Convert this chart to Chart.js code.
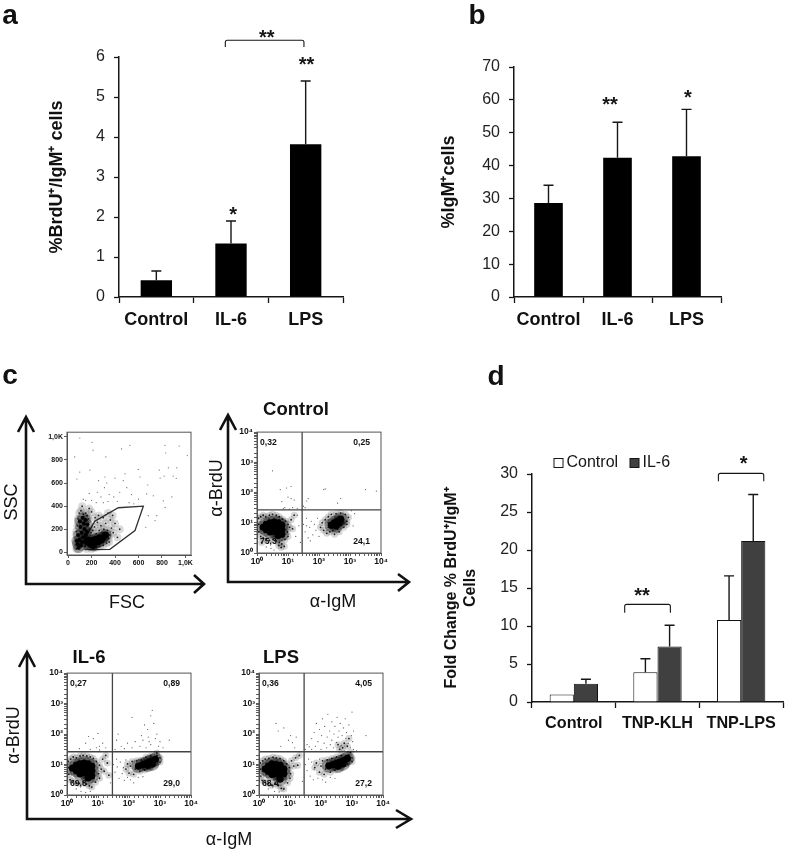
<!DOCTYPE html>
<html>
<head>
<meta charset="utf-8">
<title>BrdU / IgM panels</title>
<script src="https://cdn.jsdelivr.net/npm/chart.js@4/dist/chart.umd.min.js"></script>
<style>
  html, body { margin: 0; background: #fff; }
  #page { position: relative; width: 787px; height: 851px; overflow: hidden; font-family: "Liberation Sans", Arial, sans-serif; color: #111; filter: blur(0.4px); }
  canvas { position: absolute; }
  svg { position: absolute; left: 0; top: 0; }
  .t { position: absolute; white-space: nowrap; line-height: 1; transform: translate(-50%, -50%); }
</style>
</head>
<body>
<div id="page">
  <svg width="787" height="851" fill="none" stroke="#111" stroke-width="2.6">
    <path d="M26 417V584H203M18 432L26 417L34 432M194 575L204 584L194 593"/>
    <path d="M228 415V582H408M220 430L228 415L236 430M398 574L409 582L398 591"/>
    <path d="M27 652V819H410M19 667L27 652L35 667M396 810L411 819L396 828"/>
  </svg>
  <div class="t" style="left:10px;top:15px;font:bold 28px 'Liberation Sans'">a</div>
  <div class="t" style="left:477px;top:15px;font:bold 28px 'Liberation Sans'">b</div>
  <div class="t" style="left:10px;top:375px;font:bold 28px 'Liberation Sans'">c</div>
  <div class="t" style="left:496px;top:376px;font:bold 28px 'Liberation Sans'">d</div>
  <div class="t" style="left:11px;top:502px;font-size:18px;transform:translate(-50%,-50%) rotate(-90deg)">SSC</div>
  <div class="t" style="left:127px;top:602px;font-size:18px">FSC</div>
  <div class="t" style="left:216px;top:488px;font-size:18px;transform:translate(-50%,-50%) rotate(-90deg)">α-BrdU</div>
  <div class="t" style="left:333px;top:601px;font-size:18px">α-IgM</div>
  <div class="t" style="left:296px;top:409px;font-size:18.5px;font-weight:bold">Control</div>
  <div class="t" style="left:89px;top:657px;font-size:18.5px;font-weight:bold">IL-6</div>
  <div class="t" style="left:281px;top:657px;font-size:18.5px;font-weight:bold">LPS</div>
  <div class="t" style="left:13px;top:735px;font-size:18px;transform:translate(-50%,-50%) rotate(-90deg)">α-BrdU</div>
  <div class="t" style="left:229px;top:839px;font-size:18px">α-IgM</div>
</div>

<script>
// ---------------- BAR DATA -----------------
const groupsA = ["Control", "IL-6", "LPS"];
const meansA = [0.42, 1.34, 3.82];
const topsA = [0.65, 1.9, 5.4];

const groupsB = ["Control", "IL-6", "LPS"];
const meansB = [28.6, 42.4, 42.8];
const topsB = [34, 53.2, 57.1];

const groupsD = ["Control", "TNP-KLH", "TNP-LPS"];
const controlD = [1.0, 3.9, 10.8];
const controlTopsD = [1.0, 5.7, 16.6];
const il6D = [2.4, 7.3, 21.2];
const il6TopsD = [3.0, 10.1, 27.3];

// ---------------- FLOW DATA -----------------
// fsc/ssc events in axis units, gate is the drawn polygon
const gateFsc = [[143,23],[356,26],[570,189],[641,400],[428,386],[228,269],[150,130],[143,23]];
const fscCore = [[175,85],[195,70],[205,105],[225,80],[235,115],[255,90],[265,125],[285,105],[300,130],[320,150],[215,60]];
const fscColumn = [[80,70],[95,110],[85,150],[110,60],[115,170],[105,220],[130,130],[135,250],[125,300],[140,200],[150,150],[150,280],[100,270],[165,240],[160,180],[75,100],[120,90],[145,90],[90,40],[170,120]];
const fscFringe = [[70,30],[70,180],[80,230],[85,290],[95,340],[110,360],[120,400],[130,330],[150,340],[165,320],[175,290],[180,200],[195,170],[210,190],[225,220],[240,160],[250,260],[265,190],[280,230],[290,170],[305,200],[320,250],[335,190],[345,120],[355,150],[370,210],[350,90],[330,80],[300,60],[270,50],[240,40],[200,30],[160,30],[385,170],[400,250],[420,130],[300,300],[260,320],[230,300],[200,350],[180,380],[360,280],[340,340],[380,320],[440,200]];
const fscSparse = [[100,990],[205,952],[213,884],[57,826],[322,826],[456,895],[527,926],[826,926],[832,860],[946,920],[1015,838],[926,732],[854,732],[777,712],[895,660],[921,641],[597,718],[485,680],[186,712],[100,695],[75,635],[314,652],[400,643],[613,652],[679,583],[818,660],[784,643],[884,480],[670,506],[726,489],[811,446],[827,389],[756,317],[683,317],[662,217],[741,275],[250,520],[280,480],[310,560],[350,500],[180,510],[200,450],[240,430],[300,430],[340,440],[390,480],[440,520],[500,560],[150,450],[130,460],[260,620],[330,600],[420,440],[520,430],[560,420],[600,460],[540,500],[470,620]];

// quadrant plots: events in decades of the log axes [log10 IgM, log10 BrdU]
const ctrlGate = [1.456, 1.43];
const ctrlPct = ["0,32", "0,25", "75,3", "24,1"];
const ctrlCore = [[.2,.85],[.3,.95],[.3,.78],[.42,1.0],[.42,.85],[.42,.7],[.55,1.02],[.55,.88],[.55,.72],[.68,1.0],[.68,.85],[.68,.7],[.68,.58],[.8,.92],[.8,.78],[.8,.62],[2.4,.92],[2.5,1.0],[2.6,1.05],[2.7,1.12],[2.55,.9],[2.65,1.0]];
const ctrlFringe = [[.05,1.15],[.05,.95],[.06,.7],[.12,1.2],[.12,.55],[.2,1.25],[.2,.5],[.28,1.2],[.3,.45],[.4,1.25],[.4,.42],[.5,1.28],[.52,.45],[.62,1.25],[.62,.4],[.72,1.2],[.72,.35],[.82,1.12],[.8,.3],[.92,1.05],[.9,.45],[1.0,.95],[.98,.7],[1.05,.85],[1.0,.55],[.88,.22],[.78,.18],[.7,.25],[1.1,1.1],[1.15,.8],[1.2,1.25],[.15,.35],[2.05,.85],[2.1,1.0],[2.15,.75],[2.2,1.1],[2.25,.65],[2.3,1.2],[2.35,.7],[2.4,1.28],[2.5,.62],[2.55,1.3],[2.65,.7],[2.7,1.32],[2.8,.85],[2.85,1.28],[2.9,1.05],[2.95,1.18],[2.3,.85],[2.3,1.0],[2.8,1.0],[2.75,1.2],[2.45,.75],[2.6,.78],[2.9,.95]];
const ctrlSparse = [[1.5,.95],[1.55,.7],[1.6,1.15],[1.65,.5],[1.7,.85],[1.75,1.05],[1.8,.6],[1.85,.95],[1.9,.75],[1.95,1.15],[2.0,.55],[1.6,.9],[1.72,.4],[1.3,1.25],[1.35,.9],[1.25,.55],[1.4,.35],[.9,1.5],[.85,1.47],[1.05,1.45],[1.15,1.5],[1.3,1.48],[.5,2.72],[.75,2.1],[.95,2.15],[1.1,2.2],[1.2,1.75],[1.1,1.8],[.8,1.7],[1.0,1.85],[1.55,1.5],[1.6,1.72],[1.5,1.55],[1.65,1.8],[2.15,2.1],[2.2,2.12],[2.6,1.65],[3.5,2.1],[3.85,2.05],[2.7,1.8],[.3,.2],[.45,.15],[.55,.1],[3.15,1.3],[3.05,1.4],[3.1,.9]];

const il6Gate = [1.465, 1.42];
const il6Pct = ["0,27", "0,89", "69,8", "29,0"];
const il6Core = [[.18,.88],[.3,.98],[.3,.8],[.42,1.02],[.42,.86],[.42,.7],[.55,1.05],[.55,.9],[.55,.74],[.68,1.02],[.68,.86],[.68,.7],[.68,.56],[.8,.95],[.8,.8],[.8,.62],[2.3,.95],[2.45,1.0],[2.55,1.03],[2.65,1.08],[2.75,1.12],[2.85,1.17],[2.6,.98],[2.75,1.02]];
const il6Fringe = [[.04,1.1],[.05,.9],[.06,.68],[.12,1.18],[.1,.5],[.2,1.25],[.2,.46],[.3,1.22],[.3,.4],[.42,1.28],[.4,.38],[.52,1.3],[.52,.42],[.64,1.28],[.62,.36],[.75,1.25],[.72,.3],[.85,1.2],[.8,.26],[.95,1.1],[.92,.42],[1.05,.98],[1.02,.7],[1.1,.85],[1.05,.55],[1.15,1.18],[1.2,.78],[1.3,1.05],[1.35,.65],[1.25,1.3],[1.9,.85],[1.95,1.02],[2.0,.72],[2.05,.95],[2.1,1.1],[2.15,.68],[2.2,.85],[2.25,1.12],[2.35,.78],[2.4,1.15],[2.5,.82],[2.55,1.24],[2.65,.9],[2.7,1.28],[2.85,1.0],[2.9,1.3],[3.0,1.22],[3.0,1.08],[2.9,1.38]];
const il6Sparse = [[1.5,1.0],[1.55,.75],[1.6,1.18],[1.62,.92],[1.68,.55],[1.72,1.08],[1.78,.7],[1.82,.9],[1.85,.48],[1.9,1.15],[1.95,.58],[2.05,.5],[2.15,.4],[2.3,.58],[2.45,.6],[1.4,.4],[.75,1.5],[.95,1.55],[1.05,1.48],[.6,1.7],[.7,1.92],[.85,1.85],[1.0,2.02],[1.05,1.6],[1.15,1.7],[1.25,1.55],[.4,1.52],[1.55,1.5],[1.6,1.8],[1.65,2.0],[1.75,1.6],[1.85,1.52],[1.95,1.7],[2.1,1.55],[2.2,1.75],[2.35,1.6],[2.4,1.95],[2.45,1.8],[2.55,1.55],[2.6,2.15],[2.62,1.9],[2.7,1.65],[2.7,2.6],[2.65,1.75],[2.8,2.35],[2.85,1.85],[2.9,2.0],[2.95,1.6],[3.0,1.75],[3.1,1.55],[3.3,1.8],[2.1,2.55],[2.5,2.3],[2.75,2.78],[.3,.2],[.45,.12],[.6,.08],[.75,.12]];

const lpsGate = [1.455, 1.42];
const lpsPct = ["0,36", "4,05", "68,4", "27,2"];
const lpsCore = [[.2,.85],[.3,.95],[.3,.78],[.42,1.02],[.42,.85],[.42,.68],[.55,1.0],[.55,.85],[.55,.7],[.68,.98],[.68,.82],[.68,.66],[.68,.52],[.8,.85],[.8,.7],[2.25,.96],[2.38,1.0],[2.5,1.04],[2.62,1.08],[2.75,1.14],[2.85,1.2],[2.55,.95],[2.7,1.02]];
const lpsFringe = [[.04,1.05],[.05,.85],[.06,.62],[.12,1.12],[.1,.48],[.2,1.18],[.2,.42],[.32,1.2],[.3,.38],[.45,1.24],[.4,.32],[.56,1.22],[.52,.38],[.68,1.2],[.62,.3],[.8,1.12],[.72,.22],[.9,1.02],[.8,.2],[.98,.9],[.92,.4],[1.02,.7],[1.0,.55],[1.05,1.12],[1.12,.95],[1.18,1.22],[1.25,.98],[1.3,1.3],[1.8,.9],[1.85,1.05],[1.95,.75],[2.0,.95],[2.05,1.12],[2.1,.68],[2.15,.85],[2.2,1.15],[2.3,.75],[2.35,1.2],[2.45,.82],[2.5,1.25],[2.6,.88],[2.65,1.3],[2.85,1.02],[2.9,1.32],[3.0,1.22],[3.0,1.1],[2.95,1.4],[2.6,1.5],[2.7,1.55],[2.75,1.7],[2.85,1.6],[2.55,1.65],[2.9,1.85]];
const lpsSparse = [[1.5,1.0],[1.55,.8],[1.6,1.18],[1.65,.62],[1.7,1.08],[1.75,.5],[1.78,.85],[1.9,.55],[1.95,1.18],[2.05,.5],[2.15,.42],[2.3,.58],[2.45,.55],[1.4,.45],[1.5,1.5],[1.55,1.65],[1.62,1.58],[1.7,1.5],[1.7,1.85],[1.78,2.05],[1.82,1.6],[1.85,2.35],[1.9,1.75],[1.95,2.15],[2.0,1.5],[2.02,1.95],[2.05,2.5],[2.1,1.7],[2.12,2.25],[2.18,1.55],[2.2,1.9],[2.22,2.65],[2.28,2.1],[2.3,1.65],[2.35,2.4],[2.35,1.8],[2.4,1.55],[2.42,2.0],[2.45,2.25],[2.5,1.72],[2.52,2.55],[2.55,1.9],[2.58,2.1],[2.62,2.35],[2.65,1.62],[2.68,1.95],[2.72,2.2],[2.75,1.45],[2.78,2.5],[2.8,1.85],[2.82,2.05],[2.88,1.7],[2.9,2.3],[2.95,1.55],[2.98,1.95],[3.02,1.75],[3.05,2.1],[3.05,1.5],[3.0,2.72],[3.15,1.45],[3.45,1.95],[.55,2.35],[.62,2.1],[.8,2.2],[.95,1.8],[1.02,1.95],[1.08,1.72],[1.15,1.55],[.7,1.6],[1.2,1.9],[.3,.2],[.5,.12],[.65,.1]];

// ---------------- SHARED HELPERS -----------------
const FONT = "'Liberation Sans', Arial, sans-serif";
const INK = "#161616";
const page = document.getElementById("page");

// canvas grows around the plot box by the margins so the box lands where it should
function addCanvas(box, m) {
  const c = document.createElement("canvas");
  c.width = box.w + m.l + m.r;
  c.height = box.h + m.t + m.b;
  c.style.left = (box.x - m.l) + "px";
  c.style.top = (box.y - m.t) + "px";
  page.appendChild(c);
  return c;
}

// error bars, brackets, stars and legend, all placed through the chart's scales
const extras = {
  id: "extras",
  afterDatasetsDraw(chart, args, opts) {
    const { ctx, scales: { x, y } } = chart;
    ctx.save();
    ctx.strokeStyle = INK;
    ctx.fillStyle = INK;
    ctx.lineWidth = 1.4;
    (opts.tops || []).forEach((tops, d) => {
      chart.getDatasetMeta(d).data.forEach((bar, i) => {
        if (tops[i] <= chart.data.datasets[d].data[i]) return;
        const top = y.getPixelForValue(tops[i]);
        ctx.beginPath();
        ctx.moveTo(bar.x, bar.y);
        ctx.lineTo(bar.x, top);
        ctx.moveTo(bar.x - 5, top);
        ctx.lineTo(bar.x + 5, top);
        ctx.stroke();
      });
    });
    (opts.brackets || []).forEach(b => {
      const x0 = x.getPixelForValue(b.from), x1 = x.getPixelForValue(b.to);
      const y0 = y.getPixelForValue(b.y), y1 = y.getPixelForValue(b.y - b.drop);
      ctx.lineWidth = 1.1;
      ctx.beginPath();
      ctx.moveTo(x0, y1);
      ctx.lineTo(x0, y0 + 2);
      ctx.quadraticCurveTo(x0, y0, x0 + 2, y0);
      ctx.lineTo(x1 - 2, y0);
      ctx.quadraticCurveTo(x1, y0, x1, y0 + 2);
      ctx.lineTo(x1, y1);
      ctx.stroke();
    });
    ctx.font = "bold 20px " + FONT;
    ctx.textAlign = "center";
    ctx.textBaseline = "alphabetic";
    (opts.stars || []).forEach(s => {
      ctx.fillText(s.text, x.getPixelForValue(s.at), y.getPixelForValue(s.y) + 8.5);
    });
    if (opts.legend) {
      ctx.font = "16px " + FONT;
      ctx.textAlign = "left";
      ctx.textBaseline = "middle";
      ctx.lineWidth = 1;
      opts.legend.forEach((px, d) => {
        const ds = chart.data.datasets[d], ly = chart.chartArea.top - 11;
        ctx.fillStyle = ds.backgroundColor;
        ctx.fillRect(chart.chartArea.left + px, ly - 4.5, 9, 9);
        ctx.strokeRect(chart.chartArea.left + px, ly - 4.5, 9, 9);
        ctx.fillStyle = INK;
        ctx.fillText(ds.label, chart.chartArea.left + px + 12.5, ly);
      });
    }
    ctx.restore();
  }
};

// ---------------- BAR CHARTS -----------------
function barChart(box, m, cfg) {
  new Chart(addCanvas(box, m), {
    type: "bar",
    data: { labels: cfg.labels, datasets: cfg.datasets },
    plugins: [extras],
    options: {
      responsive: false,
      animation: false,
      devicePixelRatio: 1,
      layout: { autoPadding: false, padding: { top: m.t, right: m.r, left: 0, bottom: 0 } },
      plugins: {
        legend: { display: false },
        tooltip: { enabled: false },
        extras: cfg.extras
      },
      scales: {
        x: {
          afterFit(s) { s.height = m.b; },
          grid: { drawOnChartArea: false, tickLength: 6, tickColor: INK, tickWidth: 1.3 },
          border: { color: INK, width: 1.5 },
          ticks: { color: "#111", font: { family: FONT, size: cfg.labelSize, weight: "bold" }, padding: cfg.labelPad, maxRotation: 0, autoSkip: false }
        },
        y: {
          min: 0,
          max: cfg.max,
          afterFit(s) { s.width = m.l; },
          grid: { drawOnChartArea: false, tickLength: 5, tickColor: INK, tickWidth: 1.3 },
          border: { color: INK, width: 1.5 },
          ticks: { stepSize: cfg.step, color: "#222", font: { family: FONT, size: 16 }, padding: 9 },
          title: { display: true, text: cfg.title, color: "#111", font: { family: FONT, size: cfg.titleSize, weight: "bold" }, padding: { top: 0, bottom: 0 } }
        }
      }
    }
  });
}

barChart({ x: 119, y: 57, w: 224, h: 240 }, { l: 73, t: 57, r: 10, b: 40 }, {
  labels: groupsA,
  max: 6,
  step: 1,
  title: "%BrdU⁺/IgM⁺ cells",
  titleSize: 18,
  labelSize: 18,
  labelPad: 6,
  datasets: [{ data: meansA, backgroundColor: "#000", barPercentage: 1, categoryPercentage: 0.42 }],
  extras: {
    tops: [topsA],
    brackets: [{ from: 0.924, to: 1.977, y: 6.42, drop: 0.17 }],
    stars: [{ text: "**", at: 1.48, y: 6.54 }, { text: "*", at: 1.03, y: 2.125 }, { text: "**", at: 2.01, y: 5.875 }]
  }
});

barChart({ x: 514, y: 67, w: 207, h: 230 }, { l: 76, t: 67, r: 10, b: 40 }, {
  labels: groupsB,
  max: 70,
  step: 10,
  title: "%IgM⁺cells",
  titleSize: 18,
  labelSize: 18,
  labelPad: 6,
  datasets: [{ data: meansB, backgroundColor: "#000", barPercentage: 1, categoryPercentage: 0.415 }],
  extras: {
    tops: [topsB],
    stars: [{ text: "**", at: 0.89, y: 59.3 }, { text: "*", at: 2.02, y: 61.4 }]
  }
});

barChart({ x: 532, y: 474, w: 251, h: 228 }, { l: 90, t: 40, r: 4, b: 40 }, {
  labels: groupsD,
  max: 30,
  step: 5,
  title: ["Fold Change % BrdU⁺/IgM⁺", "Cells"],
  titleSize: 16,
  labelSize: 16.2,
  labelPad: 6,
  datasets: [
    { label: "Control", data: controlD, backgroundColor: "#fff", borderColor: "#111", borderWidth: 1, barPercentage: 1, categoryPercentage: 0.578 },
    { label: "IL-6", data: il6D, backgroundColor: "#404040", borderColor: "#111", borderWidth: 1, barPercentage: 1, categoryPercentage: 0.578 }
  ],
  extras: {
    tops: [controlTopsD, il6TopsD],
    brackets: [{ from: 0.608, to: 1.154, y: 12.85, drop: 1.1 }, { from: 1.728, to: 2.27, y: 30.08, drop: 1.05 }],
    stars: [{ text: "**", at: 0.815, y: 14.3 }, { text: "*", at: 2.03, y: 31.66 }],
    legend: [22, 98]
  }
});

// ---------------- FLOW PLOTS -----------------
const frame = {
  id: "frame",
  afterDatasetsDraw(chart) {
    const a = chart.chartArea;
    chart.ctx.save();
    chart.ctx.strokeStyle = "#555";
    chart.ctx.lineWidth = 1;
    chart.ctx.strokeRect(a.left, a.top, a.right - a.left, a.bottom - a.top);
    chart.ctx.restore();
  }
};

// percent labels in the four corners of a quadrant plot
const cornerText = {
  id: "cornerText",
  afterDatasetsDraw(chart, args, opts) {
    if (!opts.pct) return;
    const { ctx, chartArea: a } = chart;
    ctx.save();
    ctx.fillStyle = "#111";
    ctx.font = "bold 8.6px " + FONT;
    ctx.textBaseline = "middle";
    ctx.textAlign = "left";
    ctx.fillText(opts.pct[0], a.left + 3, a.top + 11);
    ctx.fillText(opts.pct[2], a.left + 3, a.bottom - 11);
    ctx.textAlign = "right";
    ctx.fillText(opts.pct[1], a.right - 11, a.top + 11);
    ctx.fillText(opts.pct[3], a.right - 11, a.bottom - 11);
    ctx.restore();
  }
};

const dots = (data, r, color) => ({ type: "scatter", data, pointRadius: r, pointBorderWidth: 0, pointBackgroundColor: color, showLine: false });
const gateLine = (data, color) => ({ type: "scatter", data, pointRadius: 0, showLine: true, borderColor: color, borderWidth: 1.3, tension: 0 });
const toXY = p => ({ x: p[0], y: p[1] });
const fromDecades = p => ({ x: 10 ** p[0], y: 10 ** p[1] });
const SUP = ["⁰", "¹", "²", "³", "⁴"];

function flowOptions(m, xAxis, yAxis, pct) {
  const axisBase = {
    grid: { drawOnChartArea: false, tickLength: 3, tickColor: "#333", tickWidth: 0.8 },
    border: { color: "#555", width: 1 }
  };
  return {
    responsive: false,
    animation: false,
    devicePixelRatio: 1,
    layout: { autoPadding: false, padding: { top: m.t, right: m.r, left: 0, bottom: 0 } },
    plugins: { legend: { display: false }, tooltip: { enabled: false }, cornerText: { pct } },
    scales: {
      x: { ...axisBase, ...xAxis, afterFit(s) { s.height = m.b; } },
      y: { ...axisBase, ...yAxis, afterFit(s) { s.width = m.l; } }
    }
  };
}

function linearAxis(min, max) {
  return {
    type: "linear",
    min,
    max,
    ticks: {
      stepSize: 200,
      includeBounds: false,
      color: "#111",
      padding: 1,
      font: { family: FONT, size: 7, weight: "bold" },
      callback: v => (v === 1000 ? "1,0K" : v)
    }
  };
}

function logAxis() {
  return {
    type: "logarithmic",
    min: 1,
    max: 10000,
    ticks: {
      autoSkip: false,
      maxRotation: 0,
      minRotation: 0,
      color: "#111",
      padding: 1,
      font: { family: FONT, size: 8.5, weight: "bold" },
      callback(v) {
        const d = Math.log10(v);
        return Math.abs(d - Math.round(d)) < 1e-9 ? "10" + SUP[Math.round(d)] : "";
      }
    }
  };
}

// forward/side scatter
const fscMargins = { l: 30, t: 4, r: 8, b: 22 };
new Chart(addCanvas({ x: 67, y: 431, w: 124, h: 124 }, fscMargins), {
  type: "scatter",
  data: {
    datasets: [
      dots(fscFringe.map(toXY), 4, "rgba(0,0,0,0.14)"),
      dots(fscColumn.map(toXY), 5.5, "rgba(0,0,0,0.32)"),
      dots(fscCore.map(toXY), 6, "rgba(0,0,0,0.4)"),
      dots(fscSparse.map(toXY), 0.6, "#666"),
      dots(fscFringe.map(toXY), 0.9, "#333"),
      dots(fscColumn.map(toXY), 2, "#111"),
      dots(fscCore.map(toXY), 3.4, "#000"),
      gateLine(gateFsc.map(toXY), "#333")
    ]
  },
  plugins: [frame, cornerText],
  options: flowOptions(fscMargins, linearAxis(-9, 1047), linearAxis(-23, 1040))
});

function quadrantPlot(box, core, fringe, sparse, gate, pct) {
  const m = { l: 26, t: 4, r: 8, b: 22 };
  const vLine = [[gate[0], 0], [gate[0], 4]].map(fromDecades);
  const hLine = [[0, gate[1]], [4, gate[1]]].map(fromDecades);
  new Chart(addCanvas(box, m), {
    type: "scatter",
    data: {
      datasets: [
        dots(fringe.map(fromDecades), 3.5, "rgba(0,0,0,0.16)"),
        dots(core.map(fromDecades), 7, "rgba(0,0,0,0.35)"),
        dots(sparse.map(fromDecades), 0.6, "#555"),
        dots(fringe.map(fromDecades), 0.9, "#222"),
        dots(core.map(fromDecades), 3.6, "#000"),
        gateLine(vLine, "#444"),
        gateLine(hLine, "#444")
      ]
    },
    plugins: [frame, cornerText],
    options: flowOptions(m, logAxis(), logAxis(), pct)
  });
}

quadrantPlot({ x: 257, y: 430, w: 124, h: 123 }, ctrlCore, ctrlFringe, ctrlSparse, ctrlGate, ctrlPct);
quadrantPlot({ x: 67, y: 671, w: 124, h: 124 }, il6Core, il6Fringe, il6Sparse, il6Gate, il6Pct);
quadrantPlot({ x: 259, y: 671, w: 124, h: 124 }, lpsCore, lpsFringe, lpsSparse, lpsGate, lpsPct);
</script>
</body>
</html>
